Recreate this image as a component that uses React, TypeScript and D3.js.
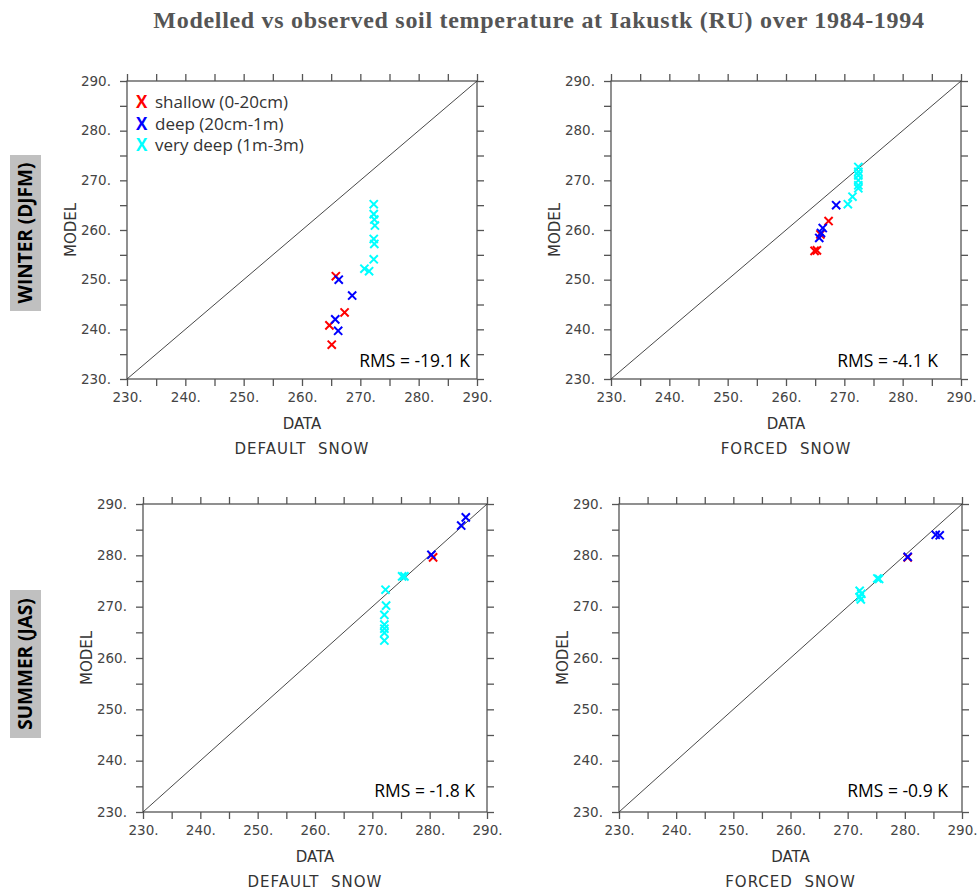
import { useEffect, useRef } from "react";
import * as d3 from "d3";

type Pt = [number, number];

const DOMAIN: [number, number] = [230, 290];
const TICKS = [230, 240, 250, 260, 270, 280, 290];
const MINOR_TICKS = d3.range(230, 291, 5);

const SERIES_NAMES = ["shallow (0-20cm)", "deep (20cm-1m)", "very deep (1m-3m)"];
const SERIES_COLORS = ["#ff0000", "#0000ff", "#00ffff"];

// winter, default snow
const winterDefaultShallow: Pt[] = [[265.8, 250.7], [267.3, 243.4], [264.7, 240.8], [265.1, 236.9]];
const winterDefaultDeep: Pt[] = [[266.3, 250.0], [268.6, 246.8], [265.7, 242.0], [266.2, 239.7]];
const winterDefaultVeryDeep: Pt[] = [
  [272.3, 265.2], [272.3, 263.2], [272.4, 262.1], [272.5, 260.9], [272.3, 258.2],
  [272.4, 257.2], [272.3, 254.1], [270.7, 252.2], [271.5, 251.7],
];

// winter, forced snow
const winterForcedShallow: Pt[] = [[267.3, 261.8], [265.9, 259.1], [264.9, 255.8], [265.3, 255.9]];
const winterForcedDeep: Pt[] = [[268.6, 265.0], [266.3, 260.4], [266.0, 259.4], [265.7, 258.4]];
const winterForcedVeryDeep: Pt[] = [
  [272.4, 272.7], [272.4, 271.7], [272.4, 271.0], [272.4, 270.0], [272.4, 269.0],
  [272.4, 268.4], [271.4, 266.7], [270.6, 265.2],
];

// summer, default snow
const summerDefaultShallow: Pt[] = [[280.6, 279.6]];
const summerDefaultDeep: Pt[] = [[286.3, 287.4], [285.5, 285.8], [280.3, 280.1]];
const summerDefaultVeryDeep: Pt[] = [
  [275.2, 275.9], [275.6, 275.9], [272.3, 273.3], [272.4, 270.2], [272.1, 268.4],
  [272.1, 266.5], [272.1, 265.7], [272.1, 264.9], [272.1, 263.4],
];

// summer, forced snow
const summerForcedShallow: Pt[] = [[280.5, 279.6]];
const summerForcedDeep: Pt[] = [[285.4, 284.0], [286.1, 283.9], [280.5, 279.7]];
const summerForcedVeryDeep: Pt[] = [
  [275.2, 275.5], [275.5, 275.4], [272.1, 273.1], [272.4, 272.5], [272.1, 271.9], [272.3, 271.4],
];

const RMS_LABELS = ["RMS = -19.1 K", "RMS = -4.1 K", "RMS = -1.8 K", "RMS = -0.9 K"];
const SNOW_LABELS = ["DEFAULT  SNOW", "FORCED  SNOW", "DEFAULT  SNOW", "FORCED  SNOW"];
const ROW_LABELS = ["WINTER (DJFM)", "SUMMER (JAS)"];
const TITLE = "Modelled vs observed soil temperature at Iakustk (RU) over 1984-1994";

const PANEL_SERIES: Pt[][][] = [
  [winterDefaultShallow, winterDefaultDeep, winterDefaultVeryDeep],
  [winterForcedShallow, winterForcedDeep, winterForcedVeryDeep],
  [summerDefaultShallow, summerDefaultDeep, summerDefaultVeryDeep],
  [summerForcedShallow, summerForcedDeep, summerForcedVeryDeep],
];

// frame of each panel in page pixels, plus where the RMS note sits
const FRAMES = [
  { x: 127, y: 81, w: 350, h: 298, rmsRight: 7, rmsUp: 12 },
  { x: 611, y: 81, w: 350, h: 298, rmsRight: 23, rmsUp: 12 },
  { x: 143, y: 504, w: 344, h: 308, rmsRight: 12, rmsUp: 15 },
  { x: 619, y: 504, w: 343, h: 308, rmsRight: 14, rmsUp: 15 },
];
const ROW_BOXES = [
  { x: 10, y: 155, w: 31, h: 156 },
  { x: 10, y: 590, w: 31, h: 148 },
];

const W = 978;
const H = 893;
const AXIS_FONT = "'DejaVu Sans', sans-serif";
const NOTE_FONT = "'Open Sans', sans-serif";

export default function App() {
  const ref = useRef<SVGSVGElement>(null);

  useEffect(() => {
    if (!ref.current) return;
    const svg = d3.select(ref.current);
    svg.selectAll("*").remove();

    svg.append("rect").attr("width", W).attr("height", H).attr("fill", "#fff");

    svg
      .append("text")
      .attr("x", 539)
      .attr("y", 28)
      .attr("text-anchor", "middle")
      .attr("font-family", "'Liberation Serif', 'Times New Roman', serif")
      .attr("font-weight", "bold")
      .attr("font-size", 24)
      .attr("letter-spacing", 0.7)
      .attr("fill", "#555")
      .text(TITLE);

    ROW_BOXES.forEach((b, i) => {
      svg.append("rect").attr("x", b.x).attr("y", b.y).attr("width", b.w).attr("height", b.h).attr("fill", "#c0c0c0");
      svg
        .append("text")
        .attr("transform", `translate(${b.x + b.w / 2},${b.y + b.h / 2}) rotate(-90)`)
        .attr("text-anchor", "middle")
        .attr("dy", "0.36em")
        .attr("font-family", NOTE_FONT)
        .attr("font-weight", "bold")
        .attr("font-size", 19)
        .attr("fill", "#000")
        .text(ROW_LABELS[i]);
    });

    const marker = d3.symbol(d3.symbolX, 45);

    FRAMES.forEach((f, pi) => {
      const x = d3.scaleLinear().domain(DOMAIN).range([f.x, f.x + f.w]);
      const y = d3.scaleLinear().domain(DOMAIN).range([f.y + f.h, f.y]);
      const g = svg.append("g");
      const tl = 7;

      const fmt = (d: d3.NumberValue) => `${d}.`;
      const styleAxis = (sel: d3.Selection<SVGGElement, unknown, null, undefined>) => {
        sel.select(".domain").remove();
        sel.selectAll(".tick line").attr("stroke", "#555").attr("stroke-width", 1.3);
        sel.selectAll(".tick text").attr("fill", "#444").attr("font-family", AXIS_FONT).attr("font-size", 13.5);
      };

      g.append("g")
        .attr("transform", `translate(0,${f.y + f.h})`)
        .call(d3.axisBottom(x).tickValues(MINOR_TICKS).tickSize(tl).tickPadding(6).tickFormat((d) => (TICKS.includes(+d) ? fmt(d) : "")))
        .call(styleAxis);
      g.append("g")
        .attr("transform", `translate(0,${f.y})`)
        .call(d3.axisTop(x).tickValues(MINOR_TICKS).tickSize(tl).tickFormat(() => ""))
        .call(styleAxis);
      g.append("g")
        .attr("transform", `translate(${f.x},0)`)
        .call(d3.axisLeft(y).tickValues(MINOR_TICKS).tickSize(tl).tickPadding(9).tickFormat((d) => (TICKS.includes(+d) ? fmt(d) : "")))
        .call(styleAxis);
      g.append("g")
        .attr("transform", `translate(${f.x + f.w},0)`)
        .call(d3.axisRight(y).tickValues(MINOR_TICKS).tickSize(tl).tickFormat(() => ""))
        .call(styleAxis);

      g.append("rect")
        .attr("x", f.x)
        .attr("y", f.y)
        .attr("width", f.w)
        .attr("height", f.h)
        .attr("fill", "none")
        .attr("stroke", "#555")
        .attr("stroke-width", 1.3);

      g.append("line")
        .attr("x1", x(DOMAIN[0]))
        .attr("y1", y(DOMAIN[0]))
        .attr("x2", x(DOMAIN[1]))
        .attr("y2", y(DOMAIN[1]))
        .attr("stroke", "#333")
        .attr("stroke-width", 0.9);

      PANEL_SERIES[pi].forEach((pts, si) => {
        g.selectAll(null)
          .data(pts)
          .join("path")
          .attr("d", marker)
          .attr("transform", (d) => `translate(${x(d[0])},${y(d[1])})`)
          .attr("fill", "none")
          .attr("stroke", SERIES_COLORS[si])
          .attr("stroke-width", 2);
      });

      g.append("text")
        .attr("x", f.x + f.w / 2)
        .attr("y", f.y + f.h + 50)
        .attr("text-anchor", "middle")
        .attr("font-family", AXIS_FONT)
        .attr("font-size", 15)
        .attr("fill", "#333")
        .text("DATA");
      g.append("text")
        .attr("x", f.x + f.w / 2)
        .attr("y", f.y + f.h + 75)
        .attr("text-anchor", "middle")
        .attr("font-family", AXIS_FONT)
        .attr("font-size", 15)
        .attr("letter-spacing", 1)
        .attr("fill", "#333")
        .style("white-space", "pre")
        .text(SNOW_LABELS[pi]);
      g.append("text")
        .attr("transform", `translate(${f.x - 51},${f.y + f.h / 2}) rotate(-90)`)
        .attr("text-anchor", "middle")
        .attr("font-family", AXIS_FONT)
        .attr("font-size", 15)
        .attr("fill", "#333")
        .text("MODEL");

      g.append("text")
        .attr("x", f.x + f.w - f.rmsRight)
        .attr("y", f.y + f.h - f.rmsUp)
        .attr("text-anchor", "end")
        .attr("font-family", NOTE_FONT)
        .attr("font-size", 17.5)
        .attr("fill", "#000")
        .text(RMS_LABELS[pi]);

      if (pi === 0) {
        SERIES_NAMES.forEach((name, si) => {
          const ly = f.y + 27 + si * 21.7;
          g.append("text")
            .attr("x", f.x + 9)
            .attr("y", ly)
            .attr("font-family", NOTE_FONT)
            .attr("font-weight", "bold")
            .attr("font-size", 17)
            .attr("fill", SERIES_COLORS[si])
            .text("X");
          g.append("text")
            .attr("x", f.x + 28)
            .attr("y", ly)
            .attr("font-family", NOTE_FONT)
            .attr("font-size", 17)
            .attr("fill", "#333")
            .text(name);
        });
      }
    });
  }, []);

  return (
    <svg
      ref={ref}
      width={W}
      height={H}
      viewBox={`0 0 ${W} ${H}`}
      style={{ position: "absolute", left: 0, top: 0, display: "block" }}
    />
  );
}
